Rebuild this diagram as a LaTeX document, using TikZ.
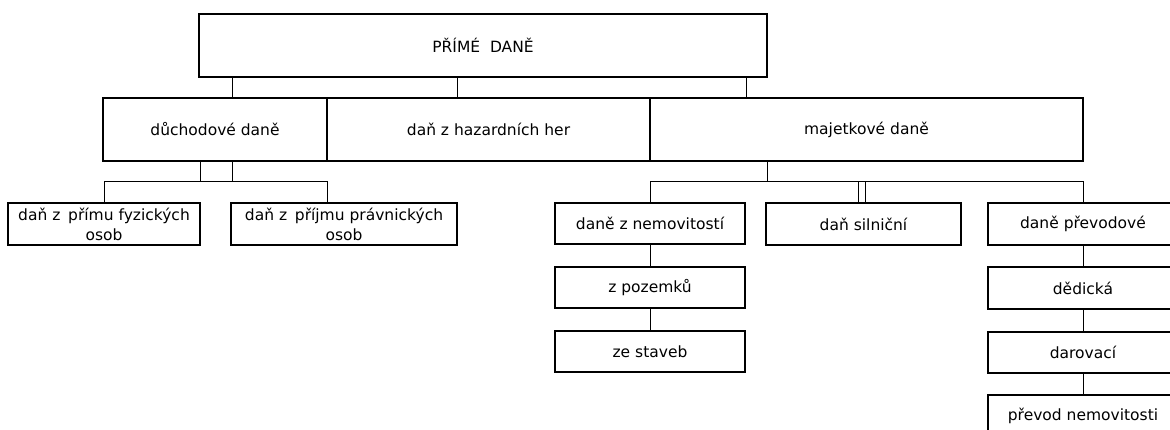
\documentclass[tikz,border=0pt]{standalone}
\usepackage{fontspec}
\setmainfont{DejaVu Sans}
\begin{document}
\begin{tikzpicture}[x=1pt,y=-1pt,
  box/.style={draw=black, line width=1.7pt, inner sep=0pt, align=center,
    font=\fontsize{15.5}{20}\selectfont},
  conn/.style={draw=black, line width=1pt}]
\useasboundingbox (0,0) rectangle (1170,430);
% top
\node[box, minimum width=568, minimum height=63] (top) at (483,45.5) {PŘÍMÉ\ \ DANĚ};
% second row
\node[box, minimum width=224, minimum height=63] (d1) at (215,129.5) {důchodové daně};
\node[box, minimum width=323, minimum height=63] (d2) at (488.5,129.5) {daň z hazardních her};
\node[box, minimum width=433, minimum height=63] (d3) at (866.5,129.5) {majetkové daně};
% third row left
\node[box, minimum width=192, minimum height=42] (f1) at (104,224) {daň z\hspace{0.5em}přímu fyzických\\osob};
\node[box, minimum width=226, minimum height=42] (f2) at (344,224) {daň z\hspace{0.5em}příjmu právnických\\osob};
% third row right
\node[box, minimum width=190, minimum height=41] (n1) at (650,223.5) {daně z nemovitostí};
\node[box, minimum width=195, minimum height=42] (s1) at (863.5,224) {daň silniční};
\node[box, minimum width=190, minimum height=42] (p1) at (1083,224) {daně převodové};
% columns
\node[box, minimum width=190, minimum height=41] (n2) at (650,287.5) {z pozemků};
\node[box, minimum width=190, minimum height=41] (n3) at (650,351.5) {ze staveb};
\node[box, minimum width=190, minimum height=42] (p2) at (1083,288) {dědická};
\node[box, minimum width=190, minimum height=41] (p3) at (1083,352.5) {darovací};
\node[box, minimum width=190, minimum height=42] (p4) at (1083,416) {převod nemovitosti};
% helper coordinates
\coordinate (j1) at (232,0);
\coordinate (j2) at (457,0);
\coordinate (j3) at (746,0);
\coordinate (k1) at (200,0);
\coordinate (bus) at (0,182);
\coordinate (kL) at (327,182);
\coordinate (m1) at (767,0);
\coordinate (s1a) at (858,0);
\coordinate (s1b) at (865,0);
% connectors top -> second row
\draw[conn] (top.south -| j1) -- (d1.north -| j1);
\draw[conn] (top.south -| j2) -- (d2.north -| j2);
\draw[conn] (top.south -| j3) -- (d3.north -| j3);
% duchodove -> children
\draw[conn] (d1.south -| k1) -- (bus -| k1);
\draw[conn] (d1.south -| j1) -- (bus -| j1);
\draw[conn] (f1.north) |- (kL) -- (f2.north -| kL);
% majetkove -> children
\draw[conn] (d3.south -| m1) -- (bus -| m1);
\draw[conn] (n1.north) |- (bus -| p1.north) -- (p1.north);
\draw[conn] (bus -| s1a) -- (s1.north -| s1a);
\draw[conn] (bus -| s1b) -- (s1.north -| s1b);
% columns
\draw[conn] (n1.south) -- (n2.north);
\draw[conn] (n2.south) -- (n3.north);
\draw[conn] (p1.south) -- (p2.north);
\draw[conn] (p2.south) -- (p3.north);
\draw[conn] (p3.south) -- (p4.north);
\end{tikzpicture}
\end{document}
